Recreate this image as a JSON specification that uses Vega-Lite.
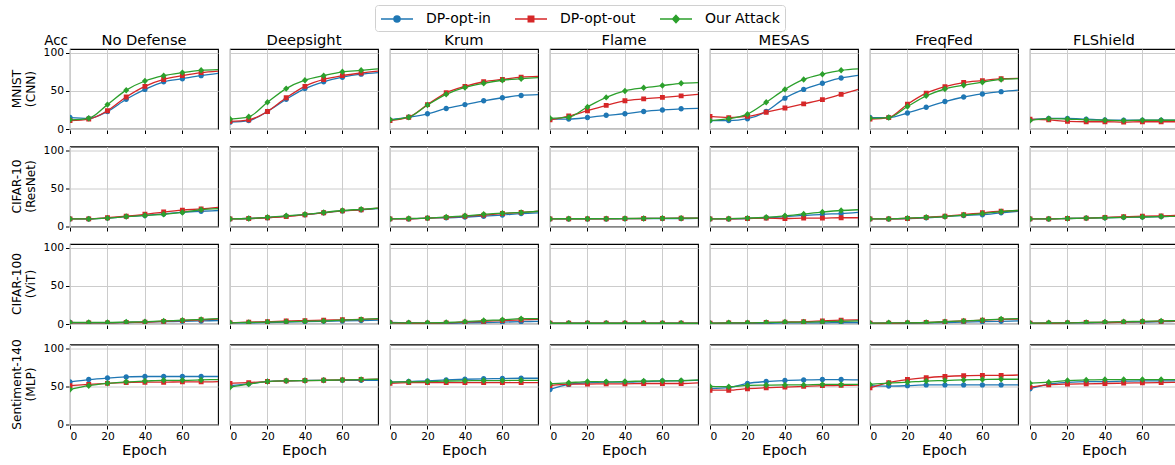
{
"$schema": "https://vega.github.io/schema/vega-lite/v6.json",
"padding": {"left": 10, "top": 4, "right": 0, "bottom": 0},
"config": {
  "font": "DejaVu Sans",
  "view": {"stroke": "black", "strokeWidth": 1.1},
  "axis": {"grid": true, "gridColor": "#cccccc", "gridWidth": 1, "domain": false, "tickColor": "black", "tickSize": 3.5, "labelFontSize": 10.7, "labelColor": "black", "labelPadding": 2, "titleFontWeight": "normal", "titleColor": "black"},
  "header": {"labelColor": "black", "labelFont": "DejaVu Sans"},
  "legend": {"orient": "none", "legendX": 305, "legendY": -44, "direction": "horizontal", "labelFontSize": 14, "labelColor": "black", "symbolSize": 256, "symbolOffset": 8, "symbolStrokeWidth": 1.5, "symbolOpacity": 1, "strokeColor": "#d0d0d0", "cornerRadius": 3, "padding": 5, "columnPadding": 21, "labelOffset": 20, "fillColor": "white"},
  "concat": {"spacing": 9.5}
},
"datasets": {"acc": [
{"d":"MNIST (CNN)","f":"No Defense","m":"DP-opt-in","e":0,"a":15},{"d":"MNIST (CNN)","f":"No Defense","m":"DP-opt-in","e":10,"a":14},{"d":"MNIST (CNN)","f":"No Defense","m":"DP-opt-in","e":20,"a":23},{"d":"MNIST (CNN)","f":"No Defense","m":"DP-opt-in","e":30,"a":39},{"d":"MNIST (CNN)","f":"No Defense","m":"DP-opt-in","e":40,"a":52},{"d":"MNIST (CNN)","f":"No Defense","m":"DP-opt-in","e":50,"a":62},{"d":"MNIST (CNN)","f":"No Defense","m":"DP-opt-in","e":60,"a":66},{"d":"MNIST (CNN)","f":"No Defense","m":"DP-opt-in","e":70,"a":70},{"d":"MNIST (CNN)","f":"No Defense","m":"DP-opt-in","e":79,"a":73},
{"d":"MNIST (CNN)","f":"No Defense","m":"DP-opt-out","e":0,"a":11},{"d":"MNIST (CNN)","f":"No Defense","m":"DP-opt-out","e":10,"a":13},{"d":"MNIST (CNN)","f":"No Defense","m":"DP-opt-out","e":20,"a":24},{"d":"MNIST (CNN)","f":"No Defense","m":"DP-opt-out","e":30,"a":42},{"d":"MNIST (CNN)","f":"No Defense","m":"DP-opt-out","e":40,"a":56},{"d":"MNIST (CNN)","f":"No Defense","m":"DP-opt-out","e":50,"a":65},{"d":"MNIST (CNN)","f":"No Defense","m":"DP-opt-out","e":60,"a":70},{"d":"MNIST (CNN)","f":"No Defense","m":"DP-opt-out","e":70,"a":74},{"d":"MNIST (CNN)","f":"No Defense","m":"DP-opt-out","e":79,"a":76},
{"d":"MNIST (CNN)","f":"No Defense","m":"Our Attack","e":0,"a":12},{"d":"MNIST (CNN)","f":"No Defense","m":"Our Attack","e":10,"a":14},{"d":"MNIST (CNN)","f":"No Defense","m":"Our Attack","e":20,"a":32},{"d":"MNIST (CNN)","f":"No Defense","m":"Our Attack","e":30,"a":51},{"d":"MNIST (CNN)","f":"No Defense","m":"Our Attack","e":40,"a":63},{"d":"MNIST (CNN)","f":"No Defense","m":"Our Attack","e":50,"a":70},{"d":"MNIST (CNN)","f":"No Defense","m":"Our Attack","e":60,"a":74},{"d":"MNIST (CNN)","f":"No Defense","m":"Our Attack","e":70,"a":77},{"d":"MNIST (CNN)","f":"No Defense","m":"Our Attack","e":79,"a":78},
{"d":"MNIST (CNN)","f":"Deepsight","m":"DP-opt-in","e":0,"a":9},{"d":"MNIST (CNN)","f":"Deepsight","m":"DP-opt-in","e":10,"a":11},{"d":"MNIST (CNN)","f":"Deepsight","m":"DP-opt-in","e":20,"a":23},{"d":"MNIST (CNN)","f":"Deepsight","m":"DP-opt-in","e":30,"a":39},{"d":"MNIST (CNN)","f":"Deepsight","m":"DP-opt-in","e":40,"a":53},{"d":"MNIST (CNN)","f":"Deepsight","m":"DP-opt-in","e":50,"a":62},{"d":"MNIST (CNN)","f":"Deepsight","m":"DP-opt-in","e":60,"a":68},{"d":"MNIST (CNN)","f":"Deepsight","m":"DP-opt-in","e":70,"a":72},{"d":"MNIST (CNN)","f":"Deepsight","m":"DP-opt-in","e":79,"a":74},
{"d":"MNIST (CNN)","f":"Deepsight","m":"DP-opt-out","e":0,"a":10},{"d":"MNIST (CNN)","f":"Deepsight","m":"DP-opt-out","e":10,"a":12},{"d":"MNIST (CNN)","f":"Deepsight","m":"DP-opt-out","e":20,"a":23},{"d":"MNIST (CNN)","f":"Deepsight","m":"DP-opt-out","e":30,"a":41},{"d":"MNIST (CNN)","f":"Deepsight","m":"DP-opt-out","e":40,"a":56},{"d":"MNIST (CNN)","f":"Deepsight","m":"DP-opt-out","e":50,"a":65},{"d":"MNIST (CNN)","f":"Deepsight","m":"DP-opt-out","e":60,"a":70},{"d":"MNIST (CNN)","f":"Deepsight","m":"DP-opt-out","e":70,"a":73.5},{"d":"MNIST (CNN)","f":"Deepsight","m":"DP-opt-out","e":79,"a":76},
{"d":"MNIST (CNN)","f":"Deepsight","m":"Our Attack","e":0,"a":13},{"d":"MNIST (CNN)","f":"Deepsight","m":"Our Attack","e":10,"a":16},{"d":"MNIST (CNN)","f":"Deepsight","m":"Our Attack","e":20,"a":35},{"d":"MNIST (CNN)","f":"Deepsight","m":"Our Attack","e":30,"a":53},{"d":"MNIST (CNN)","f":"Deepsight","m":"Our Attack","e":40,"a":64},{"d":"MNIST (CNN)","f":"Deepsight","m":"Our Attack","e":50,"a":70},{"d":"MNIST (CNN)","f":"Deepsight","m":"Our Attack","e":60,"a":75},{"d":"MNIST (CNN)","f":"Deepsight","m":"Our Attack","e":70,"a":77},{"d":"MNIST (CNN)","f":"Deepsight","m":"Our Attack","e":79,"a":79},
{"d":"MNIST (CNN)","f":"Krum","m":"DP-opt-in","e":0,"a":12},{"d":"MNIST (CNN)","f":"Krum","m":"DP-opt-in","e":10,"a":15.5},{"d":"MNIST (CNN)","f":"Krum","m":"DP-opt-in","e":20,"a":20},{"d":"MNIST (CNN)","f":"Krum","m":"DP-opt-in","e":30,"a":27},{"d":"MNIST (CNN)","f":"Krum","m":"DP-opt-in","e":40,"a":32},{"d":"MNIST (CNN)","f":"Krum","m":"DP-opt-in","e":50,"a":37},{"d":"MNIST (CNN)","f":"Krum","m":"DP-opt-in","e":60,"a":41},{"d":"MNIST (CNN)","f":"Krum","m":"DP-opt-in","e":70,"a":44},{"d":"MNIST (CNN)","f":"Krum","m":"DP-opt-in","e":79,"a":45},
{"d":"MNIST (CNN)","f":"Krum","m":"DP-opt-out","e":0,"a":11},{"d":"MNIST (CNN)","f":"Krum","m":"DP-opt-out","e":10,"a":15.5},{"d":"MNIST (CNN)","f":"Krum","m":"DP-opt-out","e":20,"a":32},{"d":"MNIST (CNN)","f":"Krum","m":"DP-opt-out","e":30,"a":47.5},{"d":"MNIST (CNN)","f":"Krum","m":"DP-opt-out","e":40,"a":56},{"d":"MNIST (CNN)","f":"Krum","m":"DP-opt-out","e":50,"a":62},{"d":"MNIST (CNN)","f":"Krum","m":"DP-opt-out","e":60,"a":65},{"d":"MNIST (CNN)","f":"Krum","m":"DP-opt-out","e":70,"a":68},{"d":"MNIST (CNN)","f":"Krum","m":"DP-opt-out","e":79,"a":69},
{"d":"MNIST (CNN)","f":"Krum","m":"Our Attack","e":0,"a":12},{"d":"MNIST (CNN)","f":"Krum","m":"Our Attack","e":10,"a":15.5},{"d":"MNIST (CNN)","f":"Krum","m":"Our Attack","e":20,"a":31.5},{"d":"MNIST (CNN)","f":"Krum","m":"Our Attack","e":30,"a":45.5},{"d":"MNIST (CNN)","f":"Krum","m":"Our Attack","e":40,"a":54.5},{"d":"MNIST (CNN)","f":"Krum","m":"Our Attack","e":50,"a":60},{"d":"MNIST (CNN)","f":"Krum","m":"Our Attack","e":60,"a":64},{"d":"MNIST (CNN)","f":"Krum","m":"Our Attack","e":70,"a":66},{"d":"MNIST (CNN)","f":"Krum","m":"Our Attack","e":79,"a":67.5},
{"d":"MNIST (CNN)","f":"Flame","m":"DP-opt-in","e":0,"a":13},{"d":"MNIST (CNN)","f":"Flame","m":"DP-opt-in","e":10,"a":13},{"d":"MNIST (CNN)","f":"Flame","m":"DP-opt-in","e":20,"a":15},{"d":"MNIST (CNN)","f":"Flame","m":"DP-opt-in","e":30,"a":18},{"d":"MNIST (CNN)","f":"Flame","m":"DP-opt-in","e":40,"a":20},{"d":"MNIST (CNN)","f":"Flame","m":"DP-opt-in","e":50,"a":23},{"d":"MNIST (CNN)","f":"Flame","m":"DP-opt-in","e":60,"a":25},{"d":"MNIST (CNN)","f":"Flame","m":"DP-opt-in","e":70,"a":26.5},{"d":"MNIST (CNN)","f":"Flame","m":"DP-opt-in","e":79,"a":27},
{"d":"MNIST (CNN)","f":"Flame","m":"DP-opt-out","e":0,"a":12},{"d":"MNIST (CNN)","f":"Flame","m":"DP-opt-out","e":10,"a":17},{"d":"MNIST (CNN)","f":"Flame","m":"DP-opt-out","e":20,"a":24},{"d":"MNIST (CNN)","f":"Flame","m":"DP-opt-out","e":30,"a":31},{"d":"MNIST (CNN)","f":"Flame","m":"DP-opt-out","e":40,"a":37},{"d":"MNIST (CNN)","f":"Flame","m":"DP-opt-out","e":50,"a":39.5},{"d":"MNIST (CNN)","f":"Flame","m":"DP-opt-out","e":60,"a":41.5},{"d":"MNIST (CNN)","f":"Flame","m":"DP-opt-out","e":70,"a":43.5},{"d":"MNIST (CNN)","f":"Flame","m":"DP-opt-out","e":79,"a":45.5},
{"d":"MNIST (CNN)","f":"Flame","m":"Our Attack","e":0,"a":14},{"d":"MNIST (CNN)","f":"Flame","m":"Our Attack","e":10,"a":15.5},{"d":"MNIST (CNN)","f":"Flame","m":"Our Attack","e":20,"a":29},{"d":"MNIST (CNN)","f":"Flame","m":"Our Attack","e":30,"a":41.5},{"d":"MNIST (CNN)","f":"Flame","m":"Our Attack","e":40,"a":50},{"d":"MNIST (CNN)","f":"Flame","m":"Our Attack","e":50,"a":54},{"d":"MNIST (CNN)","f":"Flame","m":"Our Attack","e":60,"a":57},{"d":"MNIST (CNN)","f":"Flame","m":"Our Attack","e":70,"a":60},{"d":"MNIST (CNN)","f":"Flame","m":"Our Attack","e":79,"a":61},
{"d":"MNIST (CNN)","f":"MESAS","m":"DP-opt-in","e":0,"a":11},{"d":"MNIST (CNN)","f":"MESAS","m":"DP-opt-in","e":10,"a":11},{"d":"MNIST (CNN)","f":"MESAS","m":"DP-opt-in","e":20,"a":13.5},{"d":"MNIST (CNN)","f":"MESAS","m":"DP-opt-in","e":30,"a":23},{"d":"MNIST (CNN)","f":"MESAS","m":"DP-opt-in","e":40,"a":40.5},{"d":"MNIST (CNN)","f":"MESAS","m":"DP-opt-in","e":50,"a":52},{"d":"MNIST (CNN)","f":"MESAS","m":"DP-opt-in","e":60,"a":60},{"d":"MNIST (CNN)","f":"MESAS","m":"DP-opt-in","e":70,"a":67},{"d":"MNIST (CNN)","f":"MESAS","m":"DP-opt-in","e":79,"a":70.5},
{"d":"MNIST (CNN)","f":"MESAS","m":"DP-opt-out","e":0,"a":16.5},{"d":"MNIST (CNN)","f":"MESAS","m":"DP-opt-out","e":10,"a":15},{"d":"MNIST (CNN)","f":"MESAS","m":"DP-opt-out","e":20,"a":16.5},{"d":"MNIST (CNN)","f":"MESAS","m":"DP-opt-out","e":30,"a":22},{"d":"MNIST (CNN)","f":"MESAS","m":"DP-opt-out","e":40,"a":27.5},{"d":"MNIST (CNN)","f":"MESAS","m":"DP-opt-out","e":50,"a":33},{"d":"MNIST (CNN)","f":"MESAS","m":"DP-opt-out","e":60,"a":38.5},{"d":"MNIST (CNN)","f":"MESAS","m":"DP-opt-out","e":70,"a":45.5},{"d":"MNIST (CNN)","f":"MESAS","m":"DP-opt-out","e":79,"a":52},
{"d":"MNIST (CNN)","f":"MESAS","m":"Our Attack","e":0,"a":11},{"d":"MNIST (CNN)","f":"MESAS","m":"Our Attack","e":10,"a":13.5},{"d":"MNIST (CNN)","f":"MESAS","m":"Our Attack","e":20,"a":19.5},{"d":"MNIST (CNN)","f":"MESAS","m":"Our Attack","e":30,"a":35},{"d":"MNIST (CNN)","f":"MESAS","m":"Our Attack","e":40,"a":52},{"d":"MNIST (CNN)","f":"MESAS","m":"Our Attack","e":50,"a":65},{"d":"MNIST (CNN)","f":"MESAS","m":"Our Attack","e":60,"a":72},{"d":"MNIST (CNN)","f":"MESAS","m":"Our Attack","e":70,"a":77},{"d":"MNIST (CNN)","f":"MESAS","m":"Our Attack","e":79,"a":79},
{"d":"MNIST (CNN)","f":"FreqFed","m":"DP-opt-in","e":0,"a":15},{"d":"MNIST (CNN)","f":"FreqFed","m":"DP-opt-in","e":10,"a":15},{"d":"MNIST (CNN)","f":"FreqFed","m":"DP-opt-in","e":20,"a":21},{"d":"MNIST (CNN)","f":"FreqFed","m":"DP-opt-in","e":30,"a":28.5},{"d":"MNIST (CNN)","f":"FreqFed","m":"DP-opt-in","e":40,"a":36},{"d":"MNIST (CNN)","f":"FreqFed","m":"DP-opt-in","e":50,"a":42},{"d":"MNIST (CNN)","f":"FreqFed","m":"DP-opt-in","e":60,"a":46},{"d":"MNIST (CNN)","f":"FreqFed","m":"DP-opt-in","e":70,"a":49},{"d":"MNIST (CNN)","f":"FreqFed","m":"DP-opt-in","e":79,"a":51},
{"d":"MNIST (CNN)","f":"FreqFed","m":"DP-opt-out","e":0,"a":13},{"d":"MNIST (CNN)","f":"FreqFed","m":"DP-opt-out","e":10,"a":15},{"d":"MNIST (CNN)","f":"FreqFed","m":"DP-opt-out","e":20,"a":32.5},{"d":"MNIST (CNN)","f":"FreqFed","m":"DP-opt-out","e":30,"a":47},{"d":"MNIST (CNN)","f":"FreqFed","m":"DP-opt-out","e":40,"a":55.5},{"d":"MNIST (CNN)","f":"FreqFed","m":"DP-opt-out","e":50,"a":61},{"d":"MNIST (CNN)","f":"FreqFed","m":"DP-opt-out","e":60,"a":63.5},{"d":"MNIST (CNN)","f":"FreqFed","m":"DP-opt-out","e":70,"a":66},{"d":"MNIST (CNN)","f":"FreqFed","m":"DP-opt-out","e":79,"a":66.5},
{"d":"MNIST (CNN)","f":"FreqFed","m":"Our Attack","e":0,"a":14},{"d":"MNIST (CNN)","f":"FreqFed","m":"Our Attack","e":10,"a":15},{"d":"MNIST (CNN)","f":"FreqFed","m":"Our Attack","e":20,"a":29.5},{"d":"MNIST (CNN)","f":"FreqFed","m":"Our Attack","e":30,"a":43.5},{"d":"MNIST (CNN)","f":"FreqFed","m":"Our Attack","e":40,"a":52.5},{"d":"MNIST (CNN)","f":"FreqFed","m":"Our Attack","e":50,"a":57.5},{"d":"MNIST (CNN)","f":"FreqFed","m":"Our Attack","e":60,"a":61.5},{"d":"MNIST (CNN)","f":"FreqFed","m":"Our Attack","e":70,"a":65},{"d":"MNIST (CNN)","f":"FreqFed","m":"Our Attack","e":79,"a":66},
{"d":"MNIST (CNN)","f":"FLShield","m":"DP-opt-in","e":0,"a":12},{"d":"MNIST (CNN)","f":"FLShield","m":"DP-opt-in","e":10,"a":14},{"d":"MNIST (CNN)","f":"FLShield","m":"DP-opt-in","e":20,"a":14},{"d":"MNIST (CNN)","f":"FLShield","m":"DP-opt-in","e":30,"a":13},{"d":"MNIST (CNN)","f":"FLShield","m":"DP-opt-in","e":40,"a":12},{"d":"MNIST (CNN)","f":"FLShield","m":"DP-opt-in","e":50,"a":11.5},{"d":"MNIST (CNN)","f":"FLShield","m":"DP-opt-in","e":60,"a":11.5},{"d":"MNIST (CNN)","f":"FLShield","m":"DP-opt-in","e":70,"a":11.5},{"d":"MNIST (CNN)","f":"FLShield","m":"DP-opt-in","e":79,"a":11.5},
{"d":"MNIST (CNN)","f":"FLShield","m":"DP-opt-out","e":0,"a":13},{"d":"MNIST (CNN)","f":"FLShield","m":"DP-opt-out","e":10,"a":12},{"d":"MNIST (CNN)","f":"FLShield","m":"DP-opt-out","e":20,"a":10},{"d":"MNIST (CNN)","f":"FLShield","m":"DP-opt-out","e":30,"a":9.5},{"d":"MNIST (CNN)","f":"FLShield","m":"DP-opt-out","e":40,"a":9.5},{"d":"MNIST (CNN)","f":"FLShield","m":"DP-opt-out","e":50,"a":9},{"d":"MNIST (CNN)","f":"FLShield","m":"DP-opt-out","e":60,"a":9.5},{"d":"MNIST (CNN)","f":"FLShield","m":"DP-opt-out","e":70,"a":9.5},{"d":"MNIST (CNN)","f":"FLShield","m":"DP-opt-out","e":79,"a":9.5},
{"d":"MNIST (CNN)","f":"FLShield","m":"Our Attack","e":0,"a":11},{"d":"MNIST (CNN)","f":"FLShield","m":"Our Attack","e":10,"a":13.5},{"d":"MNIST (CNN)","f":"FLShield","m":"Our Attack","e":20,"a":13},{"d":"MNIST (CNN)","f":"FLShield","m":"Our Attack","e":30,"a":12},{"d":"MNIST (CNN)","f":"FLShield","m":"Our Attack","e":40,"a":11.5},{"d":"MNIST (CNN)","f":"FLShield","m":"Our Attack","e":50,"a":11},{"d":"MNIST (CNN)","f":"FLShield","m":"Our Attack","e":60,"a":11.5},{"d":"MNIST (CNN)","f":"FLShield","m":"Our Attack","e":70,"a":11.5},{"d":"MNIST (CNN)","f":"FLShield","m":"Our Attack","e":79,"a":11.5},
{"d":"CIFAR-10 (ResNet)","f":"No Defense","m":"DP-opt-in","e":0,"a":10},{"d":"CIFAR-10 (ResNet)","f":"No Defense","m":"DP-opt-in","e":10,"a":10},{"d":"CIFAR-10 (ResNet)","f":"No Defense","m":"DP-opt-in","e":20,"a":11},{"d":"CIFAR-10 (ResNet)","f":"No Defense","m":"DP-opt-in","e":30,"a":13},{"d":"CIFAR-10 (ResNet)","f":"No Defense","m":"DP-opt-in","e":40,"a":14.5},{"d":"CIFAR-10 (ResNet)","f":"No Defense","m":"DP-opt-in","e":50,"a":16.5},{"d":"CIFAR-10 (ResNet)","f":"No Defense","m":"DP-opt-in","e":60,"a":19},{"d":"CIFAR-10 (ResNet)","f":"No Defense","m":"DP-opt-in","e":70,"a":20},{"d":"CIFAR-10 (ResNet)","f":"No Defense","m":"DP-opt-in","e":79,"a":21},
{"d":"CIFAR-10 (ResNet)","f":"No Defense","m":"DP-opt-out","e":0,"a":10},{"d":"CIFAR-10 (ResNet)","f":"No Defense","m":"DP-opt-out","e":10,"a":10},{"d":"CIFAR-10 (ResNet)","f":"No Defense","m":"DP-opt-out","e":20,"a":11.5},{"d":"CIFAR-10 (ResNet)","f":"No Defense","m":"DP-opt-out","e":30,"a":13.5},{"d":"CIFAR-10 (ResNet)","f":"No Defense","m":"DP-opt-out","e":40,"a":16},{"d":"CIFAR-10 (ResNet)","f":"No Defense","m":"DP-opt-out","e":50,"a":19},{"d":"CIFAR-10 (ResNet)","f":"No Defense","m":"DP-opt-out","e":60,"a":21.5},{"d":"CIFAR-10 (ResNet)","f":"No Defense","m":"DP-opt-out","e":70,"a":23},{"d":"CIFAR-10 (ResNet)","f":"No Defense","m":"DP-opt-out","e":79,"a":25},
{"d":"CIFAR-10 (ResNet)","f":"No Defense","m":"Our Attack","e":0,"a":10},{"d":"CIFAR-10 (ResNet)","f":"No Defense","m":"Our Attack","e":10,"a":10},{"d":"CIFAR-10 (ResNet)","f":"No Defense","m":"Our Attack","e":20,"a":11},{"d":"CIFAR-10 (ResNet)","f":"No Defense","m":"Our Attack","e":30,"a":13},{"d":"CIFAR-10 (ResNet)","f":"No Defense","m":"Our Attack","e":40,"a":14.5},{"d":"CIFAR-10 (ResNet)","f":"No Defense","m":"Our Attack","e":50,"a":16},{"d":"CIFAR-10 (ResNet)","f":"No Defense","m":"Our Attack","e":60,"a":18.5},{"d":"CIFAR-10 (ResNet)","f":"No Defense","m":"Our Attack","e":70,"a":22},{"d":"CIFAR-10 (ResNet)","f":"No Defense","m":"Our Attack","e":79,"a":23.5},
{"d":"CIFAR-10 (ResNet)","f":"Deepsight","m":"DP-opt-in","e":0,"a":10},{"d":"CIFAR-10 (ResNet)","f":"Deepsight","m":"DP-opt-in","e":10,"a":10.5},{"d":"CIFAR-10 (ResNet)","f":"Deepsight","m":"DP-opt-in","e":20,"a":11.5},{"d":"CIFAR-10 (ResNet)","f":"Deepsight","m":"DP-opt-in","e":30,"a":13.5},{"d":"CIFAR-10 (ResNet)","f":"Deepsight","m":"DP-opt-in","e":40,"a":15.5},{"d":"CIFAR-10 (ResNet)","f":"Deepsight","m":"DP-opt-in","e":50,"a":18},{"d":"CIFAR-10 (ResNet)","f":"Deepsight","m":"DP-opt-in","e":60,"a":20.5},{"d":"CIFAR-10 (ResNet)","f":"Deepsight","m":"DP-opt-in","e":70,"a":22},{"d":"CIFAR-10 (ResNet)","f":"Deepsight","m":"DP-opt-in","e":79,"a":23.5},
{"d":"CIFAR-10 (ResNet)","f":"Deepsight","m":"DP-opt-out","e":0,"a":10},{"d":"CIFAR-10 (ResNet)","f":"Deepsight","m":"DP-opt-out","e":10,"a":10.5},{"d":"CIFAR-10 (ResNet)","f":"Deepsight","m":"DP-opt-out","e":20,"a":11.5},{"d":"CIFAR-10 (ResNet)","f":"Deepsight","m":"DP-opt-out","e":30,"a":13},{"d":"CIFAR-10 (ResNet)","f":"Deepsight","m":"DP-opt-out","e":40,"a":15.5},{"d":"CIFAR-10 (ResNet)","f":"Deepsight","m":"DP-opt-out","e":50,"a":18},{"d":"CIFAR-10 (ResNet)","f":"Deepsight","m":"DP-opt-out","e":60,"a":20.5},{"d":"CIFAR-10 (ResNet)","f":"Deepsight","m":"DP-opt-out","e":70,"a":22},{"d":"CIFAR-10 (ResNet)","f":"Deepsight","m":"DP-opt-out","e":79,"a":24},
{"d":"CIFAR-10 (ResNet)","f":"Deepsight","m":"Our Attack","e":0,"a":10},{"d":"CIFAR-10 (ResNet)","f":"Deepsight","m":"Our Attack","e":10,"a":10.5},{"d":"CIFAR-10 (ResNet)","f":"Deepsight","m":"Our Attack","e":20,"a":12},{"d":"CIFAR-10 (ResNet)","f":"Deepsight","m":"Our Attack","e":30,"a":14},{"d":"CIFAR-10 (ResNet)","f":"Deepsight","m":"Our Attack","e":40,"a":16},{"d":"CIFAR-10 (ResNet)","f":"Deepsight","m":"Our Attack","e":50,"a":18.5},{"d":"CIFAR-10 (ResNet)","f":"Deepsight","m":"Our Attack","e":60,"a":21},{"d":"CIFAR-10 (ResNet)","f":"Deepsight","m":"Our Attack","e":70,"a":22.5},{"d":"CIFAR-10 (ResNet)","f":"Deepsight","m":"Our Attack","e":79,"a":24},
{"d":"CIFAR-10 (ResNet)","f":"Krum","m":"DP-opt-in","e":0,"a":10},{"d":"CIFAR-10 (ResNet)","f":"Krum","m":"DP-opt-in","e":10,"a":10},{"d":"CIFAR-10 (ResNet)","f":"Krum","m":"DP-opt-in","e":20,"a":11},{"d":"CIFAR-10 (ResNet)","f":"Krum","m":"DP-opt-in","e":30,"a":11.5},{"d":"CIFAR-10 (ResNet)","f":"Krum","m":"DP-opt-in","e":40,"a":12.5},{"d":"CIFAR-10 (ResNet)","f":"Krum","m":"DP-opt-in","e":50,"a":13.5},{"d":"CIFAR-10 (ResNet)","f":"Krum","m":"DP-opt-in","e":60,"a":15},{"d":"CIFAR-10 (ResNet)","f":"Krum","m":"DP-opt-in","e":70,"a":17},{"d":"CIFAR-10 (ResNet)","f":"Krum","m":"DP-opt-in","e":79,"a":18},
{"d":"CIFAR-10 (ResNet)","f":"Krum","m":"DP-opt-out","e":0,"a":10},{"d":"CIFAR-10 (ResNet)","f":"Krum","m":"DP-opt-out","e":10,"a":10},{"d":"CIFAR-10 (ResNet)","f":"Krum","m":"DP-opt-out","e":20,"a":11},{"d":"CIFAR-10 (ResNet)","f":"Krum","m":"DP-opt-out","e":30,"a":12},{"d":"CIFAR-10 (ResNet)","f":"Krum","m":"DP-opt-out","e":40,"a":13.5},{"d":"CIFAR-10 (ResNet)","f":"Krum","m":"DP-opt-out","e":50,"a":15},{"d":"CIFAR-10 (ResNet)","f":"Krum","m":"DP-opt-out","e":60,"a":17},{"d":"CIFAR-10 (ResNet)","f":"Krum","m":"DP-opt-out","e":70,"a":18.5},{"d":"CIFAR-10 (ResNet)","f":"Krum","m":"DP-opt-out","e":79,"a":20},
{"d":"CIFAR-10 (ResNet)","f":"Krum","m":"Our Attack","e":0,"a":10},{"d":"CIFAR-10 (ResNet)","f":"Krum","m":"Our Attack","e":10,"a":10.5},{"d":"CIFAR-10 (ResNet)","f":"Krum","m":"Our Attack","e":20,"a":11},{"d":"CIFAR-10 (ResNet)","f":"Krum","m":"Our Attack","e":30,"a":12.5},{"d":"CIFAR-10 (ResNet)","f":"Krum","m":"Our Attack","e":40,"a":14},{"d":"CIFAR-10 (ResNet)","f":"Krum","m":"Our Attack","e":50,"a":16},{"d":"CIFAR-10 (ResNet)","f":"Krum","m":"Our Attack","e":60,"a":17.5},{"d":"CIFAR-10 (ResNet)","f":"Krum","m":"Our Attack","e":70,"a":18.5},{"d":"CIFAR-10 (ResNet)","f":"Krum","m":"Our Attack","e":79,"a":20},
{"d":"CIFAR-10 (ResNet)","f":"Flame","m":"DP-opt-in","e":0,"a":10},{"d":"CIFAR-10 (ResNet)","f":"Flame","m":"DP-opt-in","e":10,"a":10},{"d":"CIFAR-10 (ResNet)","f":"Flame","m":"DP-opt-in","e":20,"a":10},{"d":"CIFAR-10 (ResNet)","f":"Flame","m":"DP-opt-in","e":30,"a":10},{"d":"CIFAR-10 (ResNet)","f":"Flame","m":"DP-opt-in","e":40,"a":10.3},{"d":"CIFAR-10 (ResNet)","f":"Flame","m":"DP-opt-in","e":50,"a":10.5},{"d":"CIFAR-10 (ResNet)","f":"Flame","m":"DP-opt-in","e":60,"a":10.5},{"d":"CIFAR-10 (ResNet)","f":"Flame","m":"DP-opt-in","e":70,"a":10.5},{"d":"CIFAR-10 (ResNet)","f":"Flame","m":"DP-opt-in","e":79,"a":10.8},
{"d":"CIFAR-10 (ResNet)","f":"Flame","m":"DP-opt-out","e":0,"a":10},{"d":"CIFAR-10 (ResNet)","f":"Flame","m":"DP-opt-out","e":10,"a":10},{"d":"CIFAR-10 (ResNet)","f":"Flame","m":"DP-opt-out","e":20,"a":10},{"d":"CIFAR-10 (ResNet)","f":"Flame","m":"DP-opt-out","e":30,"a":10.2},{"d":"CIFAR-10 (ResNet)","f":"Flame","m":"DP-opt-out","e":40,"a":10.3},{"d":"CIFAR-10 (ResNet)","f":"Flame","m":"DP-opt-out","e":50,"a":10.5},{"d":"CIFAR-10 (ResNet)","f":"Flame","m":"DP-opt-out","e":60,"a":10.7},{"d":"CIFAR-10 (ResNet)","f":"Flame","m":"DP-opt-out","e":70,"a":10.8},{"d":"CIFAR-10 (ResNet)","f":"Flame","m":"DP-opt-out","e":79,"a":11},
{"d":"CIFAR-10 (ResNet)","f":"Flame","m":"Our Attack","e":0,"a":10},{"d":"CIFAR-10 (ResNet)","f":"Flame","m":"Our Attack","e":10,"a":10.2},{"d":"CIFAR-10 (ResNet)","f":"Flame","m":"Our Attack","e":20,"a":10.2},{"d":"CIFAR-10 (ResNet)","f":"Flame","m":"Our Attack","e":30,"a":10.3},{"d":"CIFAR-10 (ResNet)","f":"Flame","m":"Our Attack","e":40,"a":10.5},{"d":"CIFAR-10 (ResNet)","f":"Flame","m":"Our Attack","e":50,"a":10.6},{"d":"CIFAR-10 (ResNet)","f":"Flame","m":"Our Attack","e":60,"a":10.7},{"d":"CIFAR-10 (ResNet)","f":"Flame","m":"Our Attack","e":70,"a":10.8},{"d":"CIFAR-10 (ResNet)","f":"Flame","m":"Our Attack","e":79,"a":11},
{"d":"CIFAR-10 (ResNet)","f":"MESAS","m":"DP-opt-in","e":0,"a":10},{"d":"CIFAR-10 (ResNet)","f":"MESAS","m":"DP-opt-in","e":10,"a":10},{"d":"CIFAR-10 (ResNet)","f":"MESAS","m":"DP-opt-in","e":20,"a":10.5},{"d":"CIFAR-10 (ResNet)","f":"MESAS","m":"DP-opt-in","e":30,"a":11.5},{"d":"CIFAR-10 (ResNet)","f":"MESAS","m":"DP-opt-in","e":40,"a":13},{"d":"CIFAR-10 (ResNet)","f":"MESAS","m":"DP-opt-in","e":50,"a":14.5},{"d":"CIFAR-10 (ResNet)","f":"MESAS","m":"DP-opt-in","e":60,"a":16},{"d":"CIFAR-10 (ResNet)","f":"MESAS","m":"DP-opt-in","e":70,"a":17},{"d":"CIFAR-10 (ResNet)","f":"MESAS","m":"DP-opt-in","e":79,"a":18.5},
{"d":"CIFAR-10 (ResNet)","f":"MESAS","m":"DP-opt-out","e":0,"a":10},{"d":"CIFAR-10 (ResNet)","f":"MESAS","m":"DP-opt-out","e":10,"a":10},{"d":"CIFAR-10 (ResNet)","f":"MESAS","m":"DP-opt-out","e":20,"a":10.5},{"d":"CIFAR-10 (ResNet)","f":"MESAS","m":"DP-opt-out","e":30,"a":11},{"d":"CIFAR-10 (ResNet)","f":"MESAS","m":"DP-opt-out","e":40,"a":10.5},{"d":"CIFAR-10 (ResNet)","f":"MESAS","m":"DP-opt-out","e":50,"a":11},{"d":"CIFAR-10 (ResNet)","f":"MESAS","m":"DP-opt-out","e":60,"a":11},{"d":"CIFAR-10 (ResNet)","f":"MESAS","m":"DP-opt-out","e":70,"a":11.5},{"d":"CIFAR-10 (ResNet)","f":"MESAS","m":"DP-opt-out","e":79,"a":11.5},
{"d":"CIFAR-10 (ResNet)","f":"MESAS","m":"Our Attack","e":0,"a":10},{"d":"CIFAR-10 (ResNet)","f":"MESAS","m":"Our Attack","e":10,"a":10.3},{"d":"CIFAR-10 (ResNet)","f":"MESAS","m":"Our Attack","e":20,"a":11},{"d":"CIFAR-10 (ResNet)","f":"MESAS","m":"Our Attack","e":30,"a":12},{"d":"CIFAR-10 (ResNet)","f":"MESAS","m":"Our Attack","e":40,"a":14},{"d":"CIFAR-10 (ResNet)","f":"MESAS","m":"Our Attack","e":50,"a":16.5},{"d":"CIFAR-10 (ResNet)","f":"MESAS","m":"Our Attack","e":60,"a":19},{"d":"CIFAR-10 (ResNet)","f":"MESAS","m":"Our Attack","e":70,"a":21},{"d":"CIFAR-10 (ResNet)","f":"MESAS","m":"Our Attack","e":79,"a":22},
{"d":"CIFAR-10 (ResNet)","f":"FreqFed","m":"DP-opt-in","e":0,"a":10},{"d":"CIFAR-10 (ResNet)","f":"FreqFed","m":"DP-opt-in","e":10,"a":10},{"d":"CIFAR-10 (ResNet)","f":"FreqFed","m":"DP-opt-in","e":20,"a":10.5},{"d":"CIFAR-10 (ResNet)","f":"FreqFed","m":"DP-opt-in","e":30,"a":11.5},{"d":"CIFAR-10 (ResNet)","f":"FreqFed","m":"DP-opt-in","e":40,"a":13},{"d":"CIFAR-10 (ResNet)","f":"FreqFed","m":"DP-opt-in","e":50,"a":14.5},{"d":"CIFAR-10 (ResNet)","f":"FreqFed","m":"DP-opt-in","e":60,"a":15.5},{"d":"CIFAR-10 (ResNet)","f":"FreqFed","m":"DP-opt-in","e":70,"a":18},{"d":"CIFAR-10 (ResNet)","f":"FreqFed","m":"DP-opt-in","e":79,"a":20},
{"d":"CIFAR-10 (ResNet)","f":"FreqFed","m":"DP-opt-out","e":0,"a":10},{"d":"CIFAR-10 (ResNet)","f":"FreqFed","m":"DP-opt-out","e":10,"a":10},{"d":"CIFAR-10 (ResNet)","f":"FreqFed","m":"DP-opt-out","e":20,"a":10.5},{"d":"CIFAR-10 (ResNet)","f":"FreqFed","m":"DP-opt-out","e":30,"a":12},{"d":"CIFAR-10 (ResNet)","f":"FreqFed","m":"DP-opt-out","e":40,"a":13.5},{"d":"CIFAR-10 (ResNet)","f":"FreqFed","m":"DP-opt-out","e":50,"a":15.5},{"d":"CIFAR-10 (ResNet)","f":"FreqFed","m":"DP-opt-out","e":60,"a":18},{"d":"CIFAR-10 (ResNet)","f":"FreqFed","m":"DP-opt-out","e":70,"a":20},{"d":"CIFAR-10 (ResNet)","f":"FreqFed","m":"DP-opt-out","e":79,"a":21},
{"d":"CIFAR-10 (ResNet)","f":"FreqFed","m":"Our Attack","e":0,"a":10},{"d":"CIFAR-10 (ResNet)","f":"FreqFed","m":"Our Attack","e":10,"a":10},{"d":"CIFAR-10 (ResNet)","f":"FreqFed","m":"Our Attack","e":20,"a":11},{"d":"CIFAR-10 (ResNet)","f":"FreqFed","m":"Our Attack","e":30,"a":12},{"d":"CIFAR-10 (ResNet)","f":"FreqFed","m":"Our Attack","e":40,"a":13},{"d":"CIFAR-10 (ResNet)","f":"FreqFed","m":"Our Attack","e":50,"a":15},{"d":"CIFAR-10 (ResNet)","f":"FreqFed","m":"Our Attack","e":60,"a":17},{"d":"CIFAR-10 (ResNet)","f":"FreqFed","m":"Our Attack","e":70,"a":19.5},{"d":"CIFAR-10 (ResNet)","f":"FreqFed","m":"Our Attack","e":79,"a":21},
{"d":"CIFAR-10 (ResNet)","f":"FLShield","m":"DP-opt-in","e":0,"a":10},{"d":"CIFAR-10 (ResNet)","f":"FLShield","m":"DP-opt-in","e":10,"a":10},{"d":"CIFAR-10 (ResNet)","f":"FLShield","m":"DP-opt-in","e":20,"a":10.5},{"d":"CIFAR-10 (ResNet)","f":"FLShield","m":"DP-opt-in","e":30,"a":11},{"d":"CIFAR-10 (ResNet)","f":"FLShield","m":"DP-opt-in","e":40,"a":11.5},{"d":"CIFAR-10 (ResNet)","f":"FLShield","m":"DP-opt-in","e":50,"a":12},{"d":"CIFAR-10 (ResNet)","f":"FLShield","m":"DP-opt-in","e":60,"a":12.5},{"d":"CIFAR-10 (ResNet)","f":"FLShield","m":"DP-opt-in","e":70,"a":13},{"d":"CIFAR-10 (ResNet)","f":"FLShield","m":"DP-opt-in","e":79,"a":13.5},
{"d":"CIFAR-10 (ResNet)","f":"FLShield","m":"DP-opt-out","e":0,"a":10},{"d":"CIFAR-10 (ResNet)","f":"FLShield","m":"DP-opt-out","e":10,"a":10},{"d":"CIFAR-10 (ResNet)","f":"FLShield","m":"DP-opt-out","e":20,"a":10.5},{"d":"CIFAR-10 (ResNet)","f":"FLShield","m":"DP-opt-out","e":30,"a":11},{"d":"CIFAR-10 (ResNet)","f":"FLShield","m":"DP-opt-out","e":40,"a":12},{"d":"CIFAR-10 (ResNet)","f":"FLShield","m":"DP-opt-out","e":50,"a":13},{"d":"CIFAR-10 (ResNet)","f":"FLShield","m":"DP-opt-out","e":60,"a":13.5},{"d":"CIFAR-10 (ResNet)","f":"FLShield","m":"DP-opt-out","e":70,"a":14},{"d":"CIFAR-10 (ResNet)","f":"FLShield","m":"DP-opt-out","e":79,"a":14.5},
{"d":"CIFAR-10 (ResNet)","f":"FLShield","m":"Our Attack","e":0,"a":10},{"d":"CIFAR-10 (ResNet)","f":"FLShield","m":"Our Attack","e":10,"a":10},{"d":"CIFAR-10 (ResNet)","f":"FLShield","m":"Our Attack","e":20,"a":10.5},{"d":"CIFAR-10 (ResNet)","f":"FLShield","m":"Our Attack","e":30,"a":11},{"d":"CIFAR-10 (ResNet)","f":"FLShield","m":"Our Attack","e":40,"a":11.5},{"d":"CIFAR-10 (ResNet)","f":"FLShield","m":"Our Attack","e":50,"a":12},{"d":"CIFAR-10 (ResNet)","f":"FLShield","m":"Our Attack","e":60,"a":12.5},{"d":"CIFAR-10 (ResNet)","f":"FLShield","m":"Our Attack","e":70,"a":13},{"d":"CIFAR-10 (ResNet)","f":"FLShield","m":"Our Attack","e":79,"a":13.5},
{"d":"CIFAR-100 (ViT)","f":"No Defense","m":"DP-opt-in","e":0,"a":2},{"d":"CIFAR-100 (ViT)","f":"No Defense","m":"DP-opt-in","e":10,"a":1.5},{"d":"CIFAR-100 (ViT)","f":"No Defense","m":"DP-opt-in","e":20,"a":1.5},{"d":"CIFAR-100 (ViT)","f":"No Defense","m":"DP-opt-in","e":30,"a":2},{"d":"CIFAR-100 (ViT)","f":"No Defense","m":"DP-opt-in","e":40,"a":2.5},{"d":"CIFAR-100 (ViT)","f":"No Defense","m":"DP-opt-in","e":50,"a":3},{"d":"CIFAR-100 (ViT)","f":"No Defense","m":"DP-opt-in","e":60,"a":3.5},{"d":"CIFAR-100 (ViT)","f":"No Defense","m":"DP-opt-in","e":70,"a":4},{"d":"CIFAR-100 (ViT)","f":"No Defense","m":"DP-opt-in","e":79,"a":4.5},
{"d":"CIFAR-100 (ViT)","f":"No Defense","m":"DP-opt-out","e":0,"a":1.5},{"d":"CIFAR-100 (ViT)","f":"No Defense","m":"DP-opt-out","e":10,"a":1.5},{"d":"CIFAR-100 (ViT)","f":"No Defense","m":"DP-opt-out","e":20,"a":1.5},{"d":"CIFAR-100 (ViT)","f":"No Defense","m":"DP-opt-out","e":30,"a":2},{"d":"CIFAR-100 (ViT)","f":"No Defense","m":"DP-opt-out","e":40,"a":2.5},{"d":"CIFAR-100 (ViT)","f":"No Defense","m":"DP-opt-out","e":50,"a":3.5},{"d":"CIFAR-100 (ViT)","f":"No Defense","m":"DP-opt-out","e":60,"a":4.5},{"d":"CIFAR-100 (ViT)","f":"No Defense","m":"DP-opt-out","e":70,"a":5.5},{"d":"CIFAR-100 (ViT)","f":"No Defense","m":"DP-opt-out","e":79,"a":6.5},
{"d":"CIFAR-100 (ViT)","f":"No Defense","m":"Our Attack","e":0,"a":2},{"d":"CIFAR-100 (ViT)","f":"No Defense","m":"Our Attack","e":10,"a":2},{"d":"CIFAR-100 (ViT)","f":"No Defense","m":"Our Attack","e":20,"a":2},{"d":"CIFAR-100 (ViT)","f":"No Defense","m":"Our Attack","e":30,"a":2.5},{"d":"CIFAR-100 (ViT)","f":"No Defense","m":"Our Attack","e":40,"a":3},{"d":"CIFAR-100 (ViT)","f":"No Defense","m":"Our Attack","e":50,"a":4},{"d":"CIFAR-100 (ViT)","f":"No Defense","m":"Our Attack","e":60,"a":5},{"d":"CIFAR-100 (ViT)","f":"No Defense","m":"Our Attack","e":70,"a":6},{"d":"CIFAR-100 (ViT)","f":"No Defense","m":"Our Attack","e":79,"a":7},
{"d":"CIFAR-100 (ViT)","f":"Deepsight","m":"DP-opt-in","e":0,"a":1.5},{"d":"CIFAR-100 (ViT)","f":"Deepsight","m":"DP-opt-in","e":10,"a":1.5},{"d":"CIFAR-100 (ViT)","f":"Deepsight","m":"DP-opt-in","e":20,"a":2},{"d":"CIFAR-100 (ViT)","f":"Deepsight","m":"DP-opt-in","e":30,"a":2.5},{"d":"CIFAR-100 (ViT)","f":"Deepsight","m":"DP-opt-in","e":40,"a":3},{"d":"CIFAR-100 (ViT)","f":"Deepsight","m":"DP-opt-in","e":50,"a":3.5},{"d":"CIFAR-100 (ViT)","f":"Deepsight","m":"DP-opt-in","e":60,"a":4},{"d":"CIFAR-100 (ViT)","f":"Deepsight","m":"DP-opt-in","e":70,"a":4.5},{"d":"CIFAR-100 (ViT)","f":"Deepsight","m":"DP-opt-in","e":79,"a":5},
{"d":"CIFAR-100 (ViT)","f":"Deepsight","m":"DP-opt-out","e":0,"a":1.5},{"d":"CIFAR-100 (ViT)","f":"Deepsight","m":"DP-opt-out","e":10,"a":2.5},{"d":"CIFAR-100 (ViT)","f":"Deepsight","m":"DP-opt-out","e":20,"a":3},{"d":"CIFAR-100 (ViT)","f":"Deepsight","m":"DP-opt-out","e":30,"a":4},{"d":"CIFAR-100 (ViT)","f":"Deepsight","m":"DP-opt-out","e":40,"a":4.5},{"d":"CIFAR-100 (ViT)","f":"Deepsight","m":"DP-opt-out","e":50,"a":5},{"d":"CIFAR-100 (ViT)","f":"Deepsight","m":"DP-opt-out","e":60,"a":5.5},{"d":"CIFAR-100 (ViT)","f":"Deepsight","m":"DP-opt-out","e":70,"a":6},{"d":"CIFAR-100 (ViT)","f":"Deepsight","m":"DP-opt-out","e":79,"a":6.5},
{"d":"CIFAR-100 (ViT)","f":"Deepsight","m":"Our Attack","e":0,"a":1.5},{"d":"CIFAR-100 (ViT)","f":"Deepsight","m":"Our Attack","e":10,"a":2},{"d":"CIFAR-100 (ViT)","f":"Deepsight","m":"Our Attack","e":20,"a":2.5},{"d":"CIFAR-100 (ViT)","f":"Deepsight","m":"Our Attack","e":30,"a":3},{"d":"CIFAR-100 (ViT)","f":"Deepsight","m":"Our Attack","e":40,"a":3.5},{"d":"CIFAR-100 (ViT)","f":"Deepsight","m":"Our Attack","e":50,"a":4},{"d":"CIFAR-100 (ViT)","f":"Deepsight","m":"Our Attack","e":60,"a":5},{"d":"CIFAR-100 (ViT)","f":"Deepsight","m":"Our Attack","e":70,"a":6},{"d":"CIFAR-100 (ViT)","f":"Deepsight","m":"Our Attack","e":79,"a":7},
{"d":"CIFAR-100 (ViT)","f":"Krum","m":"DP-opt-in","e":0,"a":2},{"d":"CIFAR-100 (ViT)","f":"Krum","m":"DP-opt-in","e":10,"a":1.5},{"d":"CIFAR-100 (ViT)","f":"Krum","m":"DP-opt-in","e":20,"a":1},{"d":"CIFAR-100 (ViT)","f":"Krum","m":"DP-opt-in","e":30,"a":1},{"d":"CIFAR-100 (ViT)","f":"Krum","m":"DP-opt-in","e":40,"a":1.5},{"d":"CIFAR-100 (ViT)","f":"Krum","m":"DP-opt-in","e":50,"a":2},{"d":"CIFAR-100 (ViT)","f":"Krum","m":"DP-opt-in","e":60,"a":2.5},{"d":"CIFAR-100 (ViT)","f":"Krum","m":"DP-opt-in","e":70,"a":3},{"d":"CIFAR-100 (ViT)","f":"Krum","m":"DP-opt-in","e":79,"a":3.5},
{"d":"CIFAR-100 (ViT)","f":"Krum","m":"DP-opt-out","e":0,"a":1.5},{"d":"CIFAR-100 (ViT)","f":"Krum","m":"DP-opt-out","e":10,"a":1},{"d":"CIFAR-100 (ViT)","f":"Krum","m":"DP-opt-out","e":20,"a":1},{"d":"CIFAR-100 (ViT)","f":"Krum","m":"DP-opt-out","e":30,"a":1.5},{"d":"CIFAR-100 (ViT)","f":"Krum","m":"DP-opt-out","e":40,"a":2.5},{"d":"CIFAR-100 (ViT)","f":"Krum","m":"DP-opt-out","e":50,"a":3.5},{"d":"CIFAR-100 (ViT)","f":"Krum","m":"DP-opt-out","e":60,"a":4.5},{"d":"CIFAR-100 (ViT)","f":"Krum","m":"DP-opt-out","e":70,"a":5.5},{"d":"CIFAR-100 (ViT)","f":"Krum","m":"DP-opt-out","e":79,"a":6},
{"d":"CIFAR-100 (ViT)","f":"Krum","m":"Our Attack","e":0,"a":1.5},{"d":"CIFAR-100 (ViT)","f":"Krum","m":"Our Attack","e":10,"a":1.5},{"d":"CIFAR-100 (ViT)","f":"Krum","m":"Our Attack","e":20,"a":1.5},{"d":"CIFAR-100 (ViT)","f":"Krum","m":"Our Attack","e":30,"a":2},{"d":"CIFAR-100 (ViT)","f":"Krum","m":"Our Attack","e":40,"a":3},{"d":"CIFAR-100 (ViT)","f":"Krum","m":"Our Attack","e":50,"a":4.5},{"d":"CIFAR-100 (ViT)","f":"Krum","m":"Our Attack","e":60,"a":5.5},{"d":"CIFAR-100 (ViT)","f":"Krum","m":"Our Attack","e":70,"a":7},{"d":"CIFAR-100 (ViT)","f":"Krum","m":"Our Attack","e":79,"a":7},
{"d":"CIFAR-100 (ViT)","f":"Flame","m":"DP-opt-in","e":0,"a":1},{"d":"CIFAR-100 (ViT)","f":"Flame","m":"DP-opt-in","e":10,"a":1},{"d":"CIFAR-100 (ViT)","f":"Flame","m":"DP-opt-in","e":20,"a":1},{"d":"CIFAR-100 (ViT)","f":"Flame","m":"DP-opt-in","e":30,"a":1},{"d":"CIFAR-100 (ViT)","f":"Flame","m":"DP-opt-in","e":40,"a":1},{"d":"CIFAR-100 (ViT)","f":"Flame","m":"DP-opt-in","e":50,"a":1},{"d":"CIFAR-100 (ViT)","f":"Flame","m":"DP-opt-in","e":60,"a":1},{"d":"CIFAR-100 (ViT)","f":"Flame","m":"DP-opt-in","e":70,"a":1},{"d":"CIFAR-100 (ViT)","f":"Flame","m":"DP-opt-in","e":79,"a":1},
{"d":"CIFAR-100 (ViT)","f":"Flame","m":"DP-opt-out","e":0,"a":1},{"d":"CIFAR-100 (ViT)","f":"Flame","m":"DP-opt-out","e":10,"a":1},{"d":"CIFAR-100 (ViT)","f":"Flame","m":"DP-opt-out","e":20,"a":1},{"d":"CIFAR-100 (ViT)","f":"Flame","m":"DP-opt-out","e":30,"a":1},{"d":"CIFAR-100 (ViT)","f":"Flame","m":"DP-opt-out","e":40,"a":1},{"d":"CIFAR-100 (ViT)","f":"Flame","m":"DP-opt-out","e":50,"a":1},{"d":"CIFAR-100 (ViT)","f":"Flame","m":"DP-opt-out","e":60,"a":1},{"d":"CIFAR-100 (ViT)","f":"Flame","m":"DP-opt-out","e":70,"a":1},{"d":"CIFAR-100 (ViT)","f":"Flame","m":"DP-opt-out","e":79,"a":1.2},
{"d":"CIFAR-100 (ViT)","f":"Flame","m":"Our Attack","e":0,"a":1},{"d":"CIFAR-100 (ViT)","f":"Flame","m":"Our Attack","e":10,"a":1},{"d":"CIFAR-100 (ViT)","f":"Flame","m":"Our Attack","e":20,"a":1},{"d":"CIFAR-100 (ViT)","f":"Flame","m":"Our Attack","e":30,"a":1},{"d":"CIFAR-100 (ViT)","f":"Flame","m":"Our Attack","e":40,"a":1},{"d":"CIFAR-100 (ViT)","f":"Flame","m":"Our Attack","e":50,"a":1},{"d":"CIFAR-100 (ViT)","f":"Flame","m":"Our Attack","e":60,"a":1},{"d":"CIFAR-100 (ViT)","f":"Flame","m":"Our Attack","e":70,"a":1},{"d":"CIFAR-100 (ViT)","f":"Flame","m":"Our Attack","e":79,"a":1},
{"d":"CIFAR-100 (ViT)","f":"MESAS","m":"DP-opt-in","e":0,"a":1},{"d":"CIFAR-100 (ViT)","f":"MESAS","m":"DP-opt-in","e":10,"a":1},{"d":"CIFAR-100 (ViT)","f":"MESAS","m":"DP-opt-in","e":20,"a":1},{"d":"CIFAR-100 (ViT)","f":"MESAS","m":"DP-opt-in","e":30,"a":1},{"d":"CIFAR-100 (ViT)","f":"MESAS","m":"DP-opt-in","e":40,"a":1.5},{"d":"CIFAR-100 (ViT)","f":"MESAS","m":"DP-opt-in","e":50,"a":1.5},{"d":"CIFAR-100 (ViT)","f":"MESAS","m":"DP-opt-in","e":60,"a":1.5},{"d":"CIFAR-100 (ViT)","f":"MESAS","m":"DP-opt-in","e":70,"a":2},{"d":"CIFAR-100 (ViT)","f":"MESAS","m":"DP-opt-in","e":79,"a":2},
{"d":"CIFAR-100 (ViT)","f":"MESAS","m":"DP-opt-out","e":0,"a":1},{"d":"CIFAR-100 (ViT)","f":"MESAS","m":"DP-opt-out","e":10,"a":1.5},{"d":"CIFAR-100 (ViT)","f":"MESAS","m":"DP-opt-out","e":20,"a":1.5},{"d":"CIFAR-100 (ViT)","f":"MESAS","m":"DP-opt-out","e":30,"a":2},{"d":"CIFAR-100 (ViT)","f":"MESAS","m":"DP-opt-out","e":40,"a":2.5},{"d":"CIFAR-100 (ViT)","f":"MESAS","m":"DP-opt-out","e":50,"a":3},{"d":"CIFAR-100 (ViT)","f":"MESAS","m":"DP-opt-out","e":60,"a":4},{"d":"CIFAR-100 (ViT)","f":"MESAS","m":"DP-opt-out","e":70,"a":5},{"d":"CIFAR-100 (ViT)","f":"MESAS","m":"DP-opt-out","e":79,"a":5.5},
{"d":"CIFAR-100 (ViT)","f":"MESAS","m":"Our Attack","e":0,"a":1},{"d":"CIFAR-100 (ViT)","f":"MESAS","m":"Our Attack","e":10,"a":1.5},{"d":"CIFAR-100 (ViT)","f":"MESAS","m":"Our Attack","e":20,"a":1.5},{"d":"CIFAR-100 (ViT)","f":"MESAS","m":"Our Attack","e":30,"a":2},{"d":"CIFAR-100 (ViT)","f":"MESAS","m":"Our Attack","e":40,"a":2.5},{"d":"CIFAR-100 (ViT)","f":"MESAS","m":"Our Attack","e":50,"a":2.5},{"d":"CIFAR-100 (ViT)","f":"MESAS","m":"Our Attack","e":60,"a":3},{"d":"CIFAR-100 (ViT)","f":"MESAS","m":"Our Attack","e":70,"a":3.5},{"d":"CIFAR-100 (ViT)","f":"MESAS","m":"Our Attack","e":79,"a":4},
{"d":"CIFAR-100 (ViT)","f":"FreqFed","m":"DP-opt-in","e":0,"a":1},{"d":"CIFAR-100 (ViT)","f":"FreqFed","m":"DP-opt-in","e":10,"a":1},{"d":"CIFAR-100 (ViT)","f":"FreqFed","m":"DP-opt-in","e":20,"a":1},{"d":"CIFAR-100 (ViT)","f":"FreqFed","m":"DP-opt-in","e":30,"a":1.5},{"d":"CIFAR-100 (ViT)","f":"FreqFed","m":"DP-opt-in","e":40,"a":2},{"d":"CIFAR-100 (ViT)","f":"FreqFed","m":"DP-opt-in","e":50,"a":2.5},{"d":"CIFAR-100 (ViT)","f":"FreqFed","m":"DP-opt-in","e":60,"a":3},{"d":"CIFAR-100 (ViT)","f":"FreqFed","m":"DP-opt-in","e":70,"a":3.5},{"d":"CIFAR-100 (ViT)","f":"FreqFed","m":"DP-opt-in","e":79,"a":4},
{"d":"CIFAR-100 (ViT)","f":"FreqFed","m":"DP-opt-out","e":0,"a":1},{"d":"CIFAR-100 (ViT)","f":"FreqFed","m":"DP-opt-out","e":10,"a":1},{"d":"CIFAR-100 (ViT)","f":"FreqFed","m":"DP-opt-out","e":20,"a":1.5},{"d":"CIFAR-100 (ViT)","f":"FreqFed","m":"DP-opt-out","e":30,"a":2},{"d":"CIFAR-100 (ViT)","f":"FreqFed","m":"DP-opt-out","e":40,"a":3},{"d":"CIFAR-100 (ViT)","f":"FreqFed","m":"DP-opt-out","e":50,"a":4},{"d":"CIFAR-100 (ViT)","f":"FreqFed","m":"DP-opt-out","e":60,"a":5},{"d":"CIFAR-100 (ViT)","f":"FreqFed","m":"DP-opt-out","e":70,"a":6},{"d":"CIFAR-100 (ViT)","f":"FreqFed","m":"DP-opt-out","e":79,"a":6.5},
{"d":"CIFAR-100 (ViT)","f":"FreqFed","m":"Our Attack","e":0,"a":1},{"d":"CIFAR-100 (ViT)","f":"FreqFed","m":"Our Attack","e":10,"a":1.5},{"d":"CIFAR-100 (ViT)","f":"FreqFed","m":"Our Attack","e":20,"a":1.5},{"d":"CIFAR-100 (ViT)","f":"FreqFed","m":"Our Attack","e":30,"a":2},{"d":"CIFAR-100 (ViT)","f":"FreqFed","m":"Our Attack","e":40,"a":3},{"d":"CIFAR-100 (ViT)","f":"FreqFed","m":"Our Attack","e":50,"a":4},{"d":"CIFAR-100 (ViT)","f":"FreqFed","m":"Our Attack","e":60,"a":5},{"d":"CIFAR-100 (ViT)","f":"FreqFed","m":"Our Attack","e":70,"a":6.5},{"d":"CIFAR-100 (ViT)","f":"FreqFed","m":"Our Attack","e":79,"a":7},
{"d":"CIFAR-100 (ViT)","f":"FLShield","m":"DP-opt-in","e":0,"a":1},{"d":"CIFAR-100 (ViT)","f":"FLShield","m":"DP-opt-in","e":10,"a":1},{"d":"CIFAR-100 (ViT)","f":"FLShield","m":"DP-opt-in","e":20,"a":1.5},{"d":"CIFAR-100 (ViT)","f":"FLShield","m":"DP-opt-in","e":30,"a":1.5},{"d":"CIFAR-100 (ViT)","f":"FLShield","m":"DP-opt-in","e":40,"a":2},{"d":"CIFAR-100 (ViT)","f":"FLShield","m":"DP-opt-in","e":50,"a":2.5},{"d":"CIFAR-100 (ViT)","f":"FLShield","m":"DP-opt-in","e":60,"a":2.5},{"d":"CIFAR-100 (ViT)","f":"FLShield","m":"DP-opt-in","e":70,"a":3},{"d":"CIFAR-100 (ViT)","f":"FLShield","m":"DP-opt-in","e":79,"a":3.5},
{"d":"CIFAR-100 (ViT)","f":"FLShield","m":"DP-opt-out","e":0,"a":1},{"d":"CIFAR-100 (ViT)","f":"FLShield","m":"DP-opt-out","e":10,"a":1},{"d":"CIFAR-100 (ViT)","f":"FLShield","m":"DP-opt-out","e":20,"a":1.5},{"d":"CIFAR-100 (ViT)","f":"FLShield","m":"DP-opt-out","e":30,"a":2},{"d":"CIFAR-100 (ViT)","f":"FLShield","m":"DP-opt-out","e":40,"a":2},{"d":"CIFAR-100 (ViT)","f":"FLShield","m":"DP-opt-out","e":50,"a":2.5},{"d":"CIFAR-100 (ViT)","f":"FLShield","m":"DP-opt-out","e":60,"a":3},{"d":"CIFAR-100 (ViT)","f":"FLShield","m":"DP-opt-out","e":70,"a":3.5},{"d":"CIFAR-100 (ViT)","f":"FLShield","m":"DP-opt-out","e":79,"a":4},
{"d":"CIFAR-100 (ViT)","f":"FLShield","m":"Our Attack","e":0,"a":1},{"d":"CIFAR-100 (ViT)","f":"FLShield","m":"Our Attack","e":10,"a":1.5},{"d":"CIFAR-100 (ViT)","f":"FLShield","m":"Our Attack","e":20,"a":1.5},{"d":"CIFAR-100 (ViT)","f":"FLShield","m":"Our Attack","e":30,"a":2},{"d":"CIFAR-100 (ViT)","f":"FLShield","m":"Our Attack","e":40,"a":2.5},{"d":"CIFAR-100 (ViT)","f":"FLShield","m":"Our Attack","e":50,"a":3},{"d":"CIFAR-100 (ViT)","f":"FLShield","m":"Our Attack","e":60,"a":3.5},{"d":"CIFAR-100 (ViT)","f":"FLShield","m":"Our Attack","e":70,"a":4},{"d":"CIFAR-100 (ViT)","f":"FLShield","m":"Our Attack","e":79,"a":4.5},
{"d":"Sentiment-140 (MLP)","f":"No Defense","m":"DP-opt-in","e":0,"a":56},{"d":"Sentiment-140 (MLP)","f":"No Defense","m":"DP-opt-in","e":10,"a":59},{"d":"Sentiment-140 (MLP)","f":"No Defense","m":"DP-opt-in","e":20,"a":61},{"d":"Sentiment-140 (MLP)","f":"No Defense","m":"DP-opt-in","e":30,"a":62.4},{"d":"Sentiment-140 (MLP)","f":"No Defense","m":"DP-opt-in","e":40,"a":63},{"d":"Sentiment-140 (MLP)","f":"No Defense","m":"DP-opt-in","e":50,"a":63},{"d":"Sentiment-140 (MLP)","f":"No Defense","m":"DP-opt-in","e":60,"a":63},{"d":"Sentiment-140 (MLP)","f":"No Defense","m":"DP-opt-in","e":70,"a":63},{"d":"Sentiment-140 (MLP)","f":"No Defense","m":"DP-opt-in","e":79,"a":63},
{"d":"Sentiment-140 (MLP)","f":"No Defense","m":"DP-opt-out","e":0,"a":51},{"d":"Sentiment-140 (MLP)","f":"No Defense","m":"DP-opt-out","e":10,"a":52.6},{"d":"Sentiment-140 (MLP)","f":"No Defense","m":"DP-opt-out","e":20,"a":54},{"d":"Sentiment-140 (MLP)","f":"No Defense","m":"DP-opt-out","e":30,"a":55},{"d":"Sentiment-140 (MLP)","f":"No Defense","m":"DP-opt-out","e":40,"a":55.5},{"d":"Sentiment-140 (MLP)","f":"No Defense","m":"DP-opt-out","e":50,"a":55.5},{"d":"Sentiment-140 (MLP)","f":"No Defense","m":"DP-opt-out","e":60,"a":56},{"d":"Sentiment-140 (MLP)","f":"No Defense","m":"DP-opt-out","e":70,"a":56},{"d":"Sentiment-140 (MLP)","f":"No Defense","m":"DP-opt-out","e":79,"a":56.4},
{"d":"Sentiment-140 (MLP)","f":"No Defense","m":"Our Attack","e":0,"a":46},{"d":"Sentiment-140 (MLP)","f":"No Defense","m":"Our Attack","e":10,"a":51},{"d":"Sentiment-140 (MLP)","f":"No Defense","m":"Our Attack","e":20,"a":54},{"d":"Sentiment-140 (MLP)","f":"No Defense","m":"Our Attack","e":30,"a":56},{"d":"Sentiment-140 (MLP)","f":"No Defense","m":"Our Attack","e":40,"a":57},{"d":"Sentiment-140 (MLP)","f":"No Defense","m":"Our Attack","e":50,"a":58},{"d":"Sentiment-140 (MLP)","f":"No Defense","m":"Our Attack","e":60,"a":58},{"d":"Sentiment-140 (MLP)","f":"No Defense","m":"Our Attack","e":70,"a":58.5},{"d":"Sentiment-140 (MLP)","f":"No Defense","m":"Our Attack","e":79,"a":59},
{"d":"Sentiment-140 (MLP)","f":"Deepsight","m":"DP-opt-in","e":0,"a":51},{"d":"Sentiment-140 (MLP)","f":"Deepsight","m":"DP-opt-in","e":10,"a":53.4},{"d":"Sentiment-140 (MLP)","f":"Deepsight","m":"DP-opt-in","e":20,"a":56.4},{"d":"Sentiment-140 (MLP)","f":"Deepsight","m":"DP-opt-in","e":30,"a":57.3},{"d":"Sentiment-140 (MLP)","f":"Deepsight","m":"DP-opt-in","e":40,"a":57.7},{"d":"Sentiment-140 (MLP)","f":"Deepsight","m":"DP-opt-in","e":50,"a":58},{"d":"Sentiment-140 (MLP)","f":"Deepsight","m":"DP-opt-in","e":60,"a":58},{"d":"Sentiment-140 (MLP)","f":"Deepsight","m":"DP-opt-in","e":70,"a":58},{"d":"Sentiment-140 (MLP)","f":"Deepsight","m":"DP-opt-in","e":79,"a":58},
{"d":"Sentiment-140 (MLP)","f":"Deepsight","m":"DP-opt-out","e":0,"a":54},{"d":"Sentiment-140 (MLP)","f":"Deepsight","m":"DP-opt-out","e":10,"a":55},{"d":"Sentiment-140 (MLP)","f":"Deepsight","m":"DP-opt-out","e":20,"a":56.4},{"d":"Sentiment-140 (MLP)","f":"Deepsight","m":"DP-opt-out","e":30,"a":57.3},{"d":"Sentiment-140 (MLP)","f":"Deepsight","m":"DP-opt-out","e":40,"a":57.7},{"d":"Sentiment-140 (MLP)","f":"Deepsight","m":"DP-opt-out","e":50,"a":58},{"d":"Sentiment-140 (MLP)","f":"Deepsight","m":"DP-opt-out","e":60,"a":58.5},{"d":"Sentiment-140 (MLP)","f":"Deepsight","m":"DP-opt-out","e":70,"a":59},{"d":"Sentiment-140 (MLP)","f":"Deepsight","m":"DP-opt-out","e":79,"a":59.4},
{"d":"Sentiment-140 (MLP)","f":"Deepsight","m":"Our Attack","e":0,"a":49},{"d":"Sentiment-140 (MLP)","f":"Deepsight","m":"Our Attack","e":10,"a":53},{"d":"Sentiment-140 (MLP)","f":"Deepsight","m":"Our Attack","e":20,"a":56.4},{"d":"Sentiment-140 (MLP)","f":"Deepsight","m":"Our Attack","e":30,"a":57.3},{"d":"Sentiment-140 (MLP)","f":"Deepsight","m":"Our Attack","e":40,"a":57.7},{"d":"Sentiment-140 (MLP)","f":"Deepsight","m":"Our Attack","e":50,"a":58},{"d":"Sentiment-140 (MLP)","f":"Deepsight","m":"Our Attack","e":60,"a":58.5},{"d":"Sentiment-140 (MLP)","f":"Deepsight","m":"Our Attack","e":70,"a":59},{"d":"Sentiment-140 (MLP)","f":"Deepsight","m":"Our Attack","e":79,"a":59.4},
{"d":"Sentiment-140 (MLP)","f":"Krum","m":"DP-opt-in","e":0,"a":55.5},{"d":"Sentiment-140 (MLP)","f":"Krum","m":"DP-opt-in","e":10,"a":56.4},{"d":"Sentiment-140 (MLP)","f":"Krum","m":"DP-opt-in","e":20,"a":57.3},{"d":"Sentiment-140 (MLP)","f":"Krum","m":"DP-opt-in","e":30,"a":58.5},{"d":"Sentiment-140 (MLP)","f":"Krum","m":"DP-opt-in","e":40,"a":59.4},{"d":"Sentiment-140 (MLP)","f":"Krum","m":"DP-opt-in","e":50,"a":60},{"d":"Sentiment-140 (MLP)","f":"Krum","m":"DP-opt-in","e":60,"a":60.3},{"d":"Sentiment-140 (MLP)","f":"Krum","m":"DP-opt-in","e":70,"a":60.7},{"d":"Sentiment-140 (MLP)","f":"Krum","m":"DP-opt-in","e":79,"a":60.7},
{"d":"Sentiment-140 (MLP)","f":"Krum","m":"DP-opt-out","e":0,"a":54},{"d":"Sentiment-140 (MLP)","f":"Krum","m":"DP-opt-out","e":10,"a":55},{"d":"Sentiment-140 (MLP)","f":"Krum","m":"DP-opt-out","e":20,"a":55},{"d":"Sentiment-140 (MLP)","f":"Krum","m":"DP-opt-out","e":30,"a":55},{"d":"Sentiment-140 (MLP)","f":"Krum","m":"DP-opt-out","e":40,"a":55},{"d":"Sentiment-140 (MLP)","f":"Krum","m":"DP-opt-out","e":50,"a":55},{"d":"Sentiment-140 (MLP)","f":"Krum","m":"DP-opt-out","e":60,"a":55},{"d":"Sentiment-140 (MLP)","f":"Krum","m":"DP-opt-out","e":70,"a":55},{"d":"Sentiment-140 (MLP)","f":"Krum","m":"DP-opt-out","e":79,"a":55},
{"d":"Sentiment-140 (MLP)","f":"Krum","m":"Our Attack","e":0,"a":55.5},{"d":"Sentiment-140 (MLP)","f":"Krum","m":"Our Attack","e":10,"a":56},{"d":"Sentiment-140 (MLP)","f":"Krum","m":"Our Attack","e":20,"a":56.4},{"d":"Sentiment-140 (MLP)","f":"Krum","m":"Our Attack","e":30,"a":57},{"d":"Sentiment-140 (MLP)","f":"Krum","m":"Our Attack","e":40,"a":57.3},{"d":"Sentiment-140 (MLP)","f":"Krum","m":"Our Attack","e":50,"a":57.7},{"d":"Sentiment-140 (MLP)","f":"Krum","m":"Our Attack","e":60,"a":57.7},{"d":"Sentiment-140 (MLP)","f":"Krum","m":"Our Attack","e":70,"a":58},{"d":"Sentiment-140 (MLP)","f":"Krum","m":"Our Attack","e":79,"a":58},
{"d":"Sentiment-140 (MLP)","f":"Flame","m":"DP-opt-in","e":0,"a":46},{"d":"Sentiment-140 (MLP)","f":"Flame","m":"DP-opt-in","e":10,"a":52.6},{"d":"Sentiment-140 (MLP)","f":"Flame","m":"DP-opt-in","e":20,"a":54.7},{"d":"Sentiment-140 (MLP)","f":"Flame","m":"DP-opt-in","e":30,"a":55.5},{"d":"Sentiment-140 (MLP)","f":"Flame","m":"DP-opt-in","e":40,"a":55.5},{"d":"Sentiment-140 (MLP)","f":"Flame","m":"DP-opt-in","e":50,"a":56.4},{"d":"Sentiment-140 (MLP)","f":"Flame","m":"DP-opt-in","e":60,"a":57},{"d":"Sentiment-140 (MLP)","f":"Flame","m":"DP-opt-in","e":70,"a":57.3},{"d":"Sentiment-140 (MLP)","f":"Flame","m":"DP-opt-in","e":79,"a":58},
{"d":"Sentiment-140 (MLP)","f":"Flame","m":"DP-opt-out","e":0,"a":51},{"d":"Sentiment-140 (MLP)","f":"Flame","m":"DP-opt-out","e":10,"a":53},{"d":"Sentiment-140 (MLP)","f":"Flame","m":"DP-opt-out","e":20,"a":53},{"d":"Sentiment-140 (MLP)","f":"Flame","m":"DP-opt-out","e":30,"a":53.4},{"d":"Sentiment-140 (MLP)","f":"Flame","m":"DP-opt-out","e":40,"a":53.4},{"d":"Sentiment-140 (MLP)","f":"Flame","m":"DP-opt-out","e":50,"a":53.8},{"d":"Sentiment-140 (MLP)","f":"Flame","m":"DP-opt-out","e":60,"a":53.8},{"d":"Sentiment-140 (MLP)","f":"Flame","m":"DP-opt-out","e":70,"a":53.8},{"d":"Sentiment-140 (MLP)","f":"Flame","m":"DP-opt-out","e":79,"a":54.7},
{"d":"Sentiment-140 (MLP)","f":"Flame","m":"Our Attack","e":0,"a":53.4},{"d":"Sentiment-140 (MLP)","f":"Flame","m":"Our Attack","e":10,"a":54.7},{"d":"Sentiment-140 (MLP)","f":"Flame","m":"Our Attack","e":20,"a":56.4},{"d":"Sentiment-140 (MLP)","f":"Flame","m":"Our Attack","e":30,"a":56},{"d":"Sentiment-140 (MLP)","f":"Flame","m":"Our Attack","e":40,"a":56.4},{"d":"Sentiment-140 (MLP)","f":"Flame","m":"Our Attack","e":50,"a":57},{"d":"Sentiment-140 (MLP)","f":"Flame","m":"Our Attack","e":60,"a":57.3},{"d":"Sentiment-140 (MLP)","f":"Flame","m":"Our Attack","e":70,"a":57.7},{"d":"Sentiment-140 (MLP)","f":"Flame","m":"Our Attack","e":79,"a":58.5},
{"d":"Sentiment-140 (MLP)","f":"MESAS","m":"DP-opt-in","e":0,"a":47},{"d":"Sentiment-140 (MLP)","f":"MESAS","m":"DP-opt-in","e":10,"a":48.3},{"d":"Sentiment-140 (MLP)","f":"MESAS","m":"DP-opt-in","e":20,"a":54},{"d":"Sentiment-140 (MLP)","f":"MESAS","m":"DP-opt-in","e":30,"a":56.4},{"d":"Sentiment-140 (MLP)","f":"MESAS","m":"DP-opt-in","e":40,"a":57.7},{"d":"Sentiment-140 (MLP)","f":"MESAS","m":"DP-opt-in","e":50,"a":58.5},{"d":"Sentiment-140 (MLP)","f":"MESAS","m":"DP-opt-in","e":60,"a":59},{"d":"Sentiment-140 (MLP)","f":"MESAS","m":"DP-opt-in","e":70,"a":59},{"d":"Sentiment-140 (MLP)","f":"MESAS","m":"DP-opt-in","e":79,"a":58.5},
{"d":"Sentiment-140 (MLP)","f":"MESAS","m":"DP-opt-out","e":0,"a":45},{"d":"Sentiment-140 (MLP)","f":"MESAS","m":"DP-opt-out","e":10,"a":45},{"d":"Sentiment-140 (MLP)","f":"MESAS","m":"DP-opt-out","e":20,"a":47},{"d":"Sentiment-140 (MLP)","f":"MESAS","m":"DP-opt-out","e":30,"a":48.3},{"d":"Sentiment-140 (MLP)","f":"MESAS","m":"DP-opt-out","e":40,"a":49},{"d":"Sentiment-140 (MLP)","f":"MESAS","m":"DP-opt-out","e":50,"a":50},{"d":"Sentiment-140 (MLP)","f":"MESAS","m":"DP-opt-out","e":60,"a":51},{"d":"Sentiment-140 (MLP)","f":"MESAS","m":"DP-opt-out","e":70,"a":51.3},{"d":"Sentiment-140 (MLP)","f":"MESAS","m":"DP-opt-out","e":79,"a":51.7},
{"d":"Sentiment-140 (MLP)","f":"MESAS","m":"Our Attack","e":0,"a":50},{"d":"Sentiment-140 (MLP)","f":"MESAS","m":"Our Attack","e":10,"a":49.6},{"d":"Sentiment-140 (MLP)","f":"MESAS","m":"Our Attack","e":20,"a":51.3},{"d":"Sentiment-140 (MLP)","f":"MESAS","m":"Our Attack","e":30,"a":51.7},{"d":"Sentiment-140 (MLP)","f":"MESAS","m":"Our Attack","e":40,"a":52},{"d":"Sentiment-140 (MLP)","f":"MESAS","m":"Our Attack","e":50,"a":52},{"d":"Sentiment-140 (MLP)","f":"MESAS","m":"Our Attack","e":60,"a":52.6},{"d":"Sentiment-140 (MLP)","f":"MESAS","m":"Our Attack","e":70,"a":52.6},{"d":"Sentiment-140 (MLP)","f":"MESAS","m":"Our Attack","e":79,"a":52.6},
{"d":"Sentiment-140 (MLP)","f":"FreqFed","m":"DP-opt-in","e":0,"a":51},{"d":"Sentiment-140 (MLP)","f":"FreqFed","m":"DP-opt-in","e":10,"a":50.4},{"d":"Sentiment-140 (MLP)","f":"FreqFed","m":"DP-opt-in","e":20,"a":51},{"d":"Sentiment-140 (MLP)","f":"FreqFed","m":"DP-opt-in","e":30,"a":52},{"d":"Sentiment-140 (MLP)","f":"FreqFed","m":"DP-opt-in","e":40,"a":52},{"d":"Sentiment-140 (MLP)","f":"FreqFed","m":"DP-opt-in","e":50,"a":52},{"d":"Sentiment-140 (MLP)","f":"FreqFed","m":"DP-opt-in","e":60,"a":52},{"d":"Sentiment-140 (MLP)","f":"FreqFed","m":"DP-opt-in","e":70,"a":52},{"d":"Sentiment-140 (MLP)","f":"FreqFed","m":"DP-opt-in","e":79,"a":52},
{"d":"Sentiment-140 (MLP)","f":"FreqFed","m":"DP-opt-out","e":0,"a":48},{"d":"Sentiment-140 (MLP)","f":"FreqFed","m":"DP-opt-out","e":10,"a":55},{"d":"Sentiment-140 (MLP)","f":"FreqFed","m":"DP-opt-out","e":20,"a":59},{"d":"Sentiment-140 (MLP)","f":"FreqFed","m":"DP-opt-out","e":30,"a":61.5},{"d":"Sentiment-140 (MLP)","f":"FreqFed","m":"DP-opt-out","e":40,"a":63},{"d":"Sentiment-140 (MLP)","f":"FreqFed","m":"DP-opt-out","e":50,"a":64},{"d":"Sentiment-140 (MLP)","f":"FreqFed","m":"DP-opt-out","e":60,"a":64.5},{"d":"Sentiment-140 (MLP)","f":"FreqFed","m":"DP-opt-out","e":70,"a":64.5},{"d":"Sentiment-140 (MLP)","f":"FreqFed","m":"DP-opt-out","e":79,"a":65},
{"d":"Sentiment-140 (MLP)","f":"FreqFed","m":"Our Attack","e":0,"a":52.6},{"d":"Sentiment-140 (MLP)","f":"FreqFed","m":"Our Attack","e":10,"a":54.3},{"d":"Sentiment-140 (MLP)","f":"FreqFed","m":"Our Attack","e":20,"a":55.5},{"d":"Sentiment-140 (MLP)","f":"FreqFed","m":"Our Attack","e":30,"a":57},{"d":"Sentiment-140 (MLP)","f":"FreqFed","m":"Our Attack","e":40,"a":57.7},{"d":"Sentiment-140 (MLP)","f":"FreqFed","m":"Our Attack","e":50,"a":58.5},{"d":"Sentiment-140 (MLP)","f":"FreqFed","m":"Our Attack","e":60,"a":59},{"d":"Sentiment-140 (MLP)","f":"FreqFed","m":"Our Attack","e":70,"a":59.4},{"d":"Sentiment-140 (MLP)","f":"FreqFed","m":"Our Attack","e":79,"a":59.4},
{"d":"Sentiment-140 (MLP)","f":"FLShield","m":"DP-opt-in","e":0,"a":47},{"d":"Sentiment-140 (MLP)","f":"FLShield","m":"DP-opt-in","e":10,"a":53},{"d":"Sentiment-140 (MLP)","f":"FLShield","m":"DP-opt-in","e":20,"a":55.3},{"d":"Sentiment-140 (MLP)","f":"FLShield","m":"DP-opt-in","e":30,"a":56.4},{"d":"Sentiment-140 (MLP)","f":"FLShield","m":"DP-opt-in","e":40,"a":56.4},{"d":"Sentiment-140 (MLP)","f":"FLShield","m":"DP-opt-in","e":50,"a":57},{"d":"Sentiment-140 (MLP)","f":"FLShield","m":"DP-opt-in","e":60,"a":57.3},{"d":"Sentiment-140 (MLP)","f":"FLShield","m":"DP-opt-in","e":70,"a":57.3},{"d":"Sentiment-140 (MLP)","f":"FLShield","m":"DP-opt-in","e":79,"a":57.3},
{"d":"Sentiment-140 (MLP)","f":"FLShield","m":"DP-opt-out","e":0,"a":49},{"d":"Sentiment-140 (MLP)","f":"FLShield","m":"DP-opt-out","e":10,"a":52},{"d":"Sentiment-140 (MLP)","f":"FLShield","m":"DP-opt-out","e":20,"a":53},{"d":"Sentiment-140 (MLP)","f":"FLShield","m":"DP-opt-out","e":30,"a":53.4},{"d":"Sentiment-140 (MLP)","f":"FLShield","m":"DP-opt-out","e":40,"a":53.8},{"d":"Sentiment-140 (MLP)","f":"FLShield","m":"DP-opt-out","e":50,"a":54.3},{"d":"Sentiment-140 (MLP)","f":"FLShield","m":"DP-opt-out","e":60,"a":54.7},{"d":"Sentiment-140 (MLP)","f":"FLShield","m":"DP-opt-out","e":70,"a":55},{"d":"Sentiment-140 (MLP)","f":"FLShield","m":"DP-opt-out","e":79,"a":55.5},
{"d":"Sentiment-140 (MLP)","f":"FLShield","m":"Our Attack","e":0,"a":54.3},{"d":"Sentiment-140 (MLP)","f":"FLShield","m":"Our Attack","e":10,"a":55.5},{"d":"Sentiment-140 (MLP)","f":"FLShield","m":"Our Attack","e":20,"a":57.7},{"d":"Sentiment-140 (MLP)","f":"FLShield","m":"Our Attack","e":30,"a":58.5},{"d":"Sentiment-140 (MLP)","f":"FLShield","m":"Our Attack","e":40,"a":59},{"d":"Sentiment-140 (MLP)","f":"FLShield","m":"Our Attack","e":50,"a":59},{"d":"Sentiment-140 (MLP)","f":"FLShield","m":"Our Attack","e":60,"a":59},{"d":"Sentiment-140 (MLP)","f":"FLShield","m":"Our Attack","e":70,"a":59},{"d":"Sentiment-140 (MLP)","f":"FLShield","m":"Our Attack","e":79,"a":59}
]},
"vconcat": [
{
 "data": {"name": "acc"},
 "transform": [{"filter": "datum.d == 'MNIST (CNN)'"}],
 "facet": {
  "row": {"field": "d", "type": "nominal", "title": null, "header": {"labelExpr": "split(datum.value, ' ')", "labelAngle": -90, "labelFontSize": 12.2, "labelPadding": 0, "labelLineHeight": 14}},
  "column": {"field": "f", "type": "nominal", "sort": ["No Defense","Deepsight","Krum","Flame","MESAS","FreqFed","FLShield"], "title": null, "header": {"labelFontSize": 14.7, "labelPadding": 0.5}}
 },
 "spacing": {"column": 10, "row": 0},
 "spec": {
  "width": 148, "height": 80,
  "encoding": {
   "x": {"field": "e", "type": "quantitative", "scale": {"domain": [0, 79], "nice": false}, "axis": {"labels": false, "title": null, "values": [0,20,40,60]}},
   "y": {"field": "a", "type": "quantitative", "scale": {"domain": [0, 105], "nice": false}, "axis": {"values": [0,50,100], "title": "Acc", "titleAngle": 0, "titleAlign": "right", "titleBaseline": "alphabetic", "titleX": -1.5, "titleY": -5, "titleFontSize": 13.5}},
   "color": {"field": "m", "type": "nominal", "title": null, "scale": {"domain": ["DP-opt-in","DP-opt-out","Our Attack"], "range": ["#1f77b4","#d62728","#2ca02c"]}}
  },
  "layer": [
   {"mark": {"type": "line", "strokeWidth": 1.3, "interpolate": "monotone", "clip": true}},
   {"transform": [{"filter": "datum.e <= 70"}],
    "mark": {"type": "point", "filled": true, "opacity": 1, "size": 207, "strokeWidth": 0, "clip": true},
    "encoding": {
     "stroke": {"field": "m", "type": "nominal", "title": null, "scale": {"domain": ["DP-opt-in","DP-opt-out","Our Attack"], "range": ["#1f77b4","#d62728","#2ca02c"]}},
     "shape": {"field": "m", "type": "nominal", "title": null, "scale": {"domain": ["DP-opt-in","DP-opt-out","Our Attack"], "range": ["M-2,0H2M-0.375,0A0.375,0.375 0 1,0 0.375,0A0.375,0.375 0 1,0 -0.375,0Z", "M-2,0H2M-0.34,-0.34H0.34V0.34H-0.34Z", "M-2,0H2M0,-0.45L0.42,0L0,0.45L-0.42,0Z"]}}
    }}
  ]
 }
},
{
 "data": {"name": "acc"},
 "transform": [{"filter": "datum.d == 'CIFAR-10 (ResNet)'"}],
 "facet": {
  "row": {"field": "d", "type": "nominal", "title": null, "header": {"labelExpr": "split(datum.value, ' ')", "labelAngle": -90, "labelFontSize": 12.2, "labelPadding": 0, "labelLineHeight": 14}},
  "column": {"field": "f", "type": "nominal", "sort": ["No Defense","Deepsight","Krum","Flame","MESAS","FreqFed","FLShield"], "title": null, "header": {"labels": false}}
 },
 "spacing": {"column": 10, "row": 0},
 "spec": {
  "width": 148, "height": 80,
  "encoding": {
   "x": {"field": "e", "type": "quantitative", "scale": {"domain": [0, 79], "nice": false}, "axis": {"labels": false, "title": null, "values": [0,20,40,60]}},
   "y": {"field": "a", "type": "quantitative", "scale": {"domain": [0, 105], "nice": false}, "axis": {"values": [0,50,100], "title": null}},
   "color": {"field": "m", "type": "nominal", "title": null, "scale": {"domain": ["DP-opt-in","DP-opt-out","Our Attack"], "range": ["#1f77b4","#d62728","#2ca02c"]}}
  },
  "layer": [
   {"mark": {"type": "line", "strokeWidth": 1.3, "interpolate": "monotone", "clip": true}},
   {"transform": [{"filter": "datum.e <= 70"}],
    "mark": {"type": "point", "filled": true, "opacity": 1, "size": 207, "strokeWidth": 0, "clip": true},
    "encoding": {
     "stroke": {"field": "m", "type": "nominal", "title": null, "scale": {"domain": ["DP-opt-in","DP-opt-out","Our Attack"], "range": ["#1f77b4","#d62728","#2ca02c"]}},
     "shape": {"field": "m", "type": "nominal", "title": null, "scale": {"domain": ["DP-opt-in","DP-opt-out","Our Attack"], "range": ["M-2,0H2M-0.375,0A0.375,0.375 0 1,0 0.375,0A0.375,0.375 0 1,0 -0.375,0Z", "M-2,0H2M-0.34,-0.34H0.34V0.34H-0.34Z", "M-2,0H2M0,-0.45L0.42,0L0,0.45L-0.42,0Z"]}}
    }}
  ]
 }
},
{
 "data": {"name": "acc"},
 "transform": [{"filter": "datum.d == 'CIFAR-100 (ViT)'"}],
 "facet": {
  "row": {"field": "d", "type": "nominal", "title": null, "header": {"labelExpr": "split(datum.value, ' ')", "labelAngle": -90, "labelFontSize": 12.2, "labelPadding": 0, "labelLineHeight": 14}},
  "column": {"field": "f", "type": "nominal", "sort": ["No Defense","Deepsight","Krum","Flame","MESAS","FreqFed","FLShield"], "title": null, "header": {"labels": false}}
 },
 "spacing": {"column": 10, "row": 0},
 "spec": {
  "width": 148, "height": 80,
  "encoding": {
   "x": {"field": "e", "type": "quantitative", "scale": {"domain": [0, 79], "nice": false}, "axis": {"labels": false, "title": null, "values": [0,20,40,60]}},
   "y": {"field": "a", "type": "quantitative", "scale": {"domain": [0, 105], "nice": false}, "axis": {"values": [0,50,100], "title": null}},
   "color": {"field": "m", "type": "nominal", "title": null, "scale": {"domain": ["DP-opt-in","DP-opt-out","Our Attack"], "range": ["#1f77b4","#d62728","#2ca02c"]}}
  },
  "layer": [
   {"mark": {"type": "line", "strokeWidth": 1.3, "interpolate": "monotone", "clip": true}},
   {"transform": [{"filter": "datum.e <= 70"}],
    "mark": {"type": "point", "filled": true, "opacity": 1, "size": 207, "strokeWidth": 0, "clip": true},
    "encoding": {
     "stroke": {"field": "m", "type": "nominal", "title": null, "scale": {"domain": ["DP-opt-in","DP-opt-out","Our Attack"], "range": ["#1f77b4","#d62728","#2ca02c"]}},
     "shape": {"field": "m", "type": "nominal", "title": null, "scale": {"domain": ["DP-opt-in","DP-opt-out","Our Attack"], "range": ["M-2,0H2M-0.375,0A0.375,0.375 0 1,0 0.375,0A0.375,0.375 0 1,0 -0.375,0Z", "M-2,0H2M-0.34,-0.34H0.34V0.34H-0.34Z", "M-2,0H2M0,-0.45L0.42,0L0,0.45L-0.42,0Z"]}}
    }}
  ]
 }
},
{
 "data": {"name": "acc"},
 "transform": [{"filter": "datum.d == 'Sentiment-140 (MLP)'"}],
 "facet": {
  "row": {"field": "d", "type": "nominal", "title": null, "header": {"labelExpr": "split(datum.value, ' ')", "labelAngle": -90, "labelFontSize": 12.2, "labelPadding": 0, "labelLineHeight": 14}},
  "column": {"field": "f", "type": "nominal", "sort": ["No Defense","Deepsight","Krum","Flame","MESAS","FreqFed","FLShield"], "title": null, "header": {"labels": false}}
 },
 "spacing": {"column": 10, "row": 0},
 "spec": {
  "width": 148, "height": 80,
  "encoding": {
   "x": {"field": "e", "type": "quantitative", "scale": {"domain": [0, 79], "nice": false}, "axis": {"values": [0,20,40,60], "title": "Epoch", "titleFontSize": 14.7, "titlePadding": 2}},
   "y": {"field": "a", "type": "quantitative", "scale": {"domain": [0, 105], "nice": false}, "axis": {"values": [0,50,100], "title": null}},
   "color": {"field": "m", "type": "nominal", "title": null, "scale": {"domain": ["DP-opt-in","DP-opt-out","Our Attack"], "range": ["#1f77b4","#d62728","#2ca02c"]}}
  },
  "layer": [
   {"mark": {"type": "line", "strokeWidth": 1.3, "interpolate": "monotone", "clip": true}},
   {"transform": [{"filter": "datum.e <= 70"}],
    "mark": {"type": "point", "filled": true, "opacity": 1, "size": 207, "strokeWidth": 0, "clip": true},
    "encoding": {
     "stroke": {"field": "m", "type": "nominal", "title": null, "scale": {"domain": ["DP-opt-in","DP-opt-out","Our Attack"], "range": ["#1f77b4","#d62728","#2ca02c"]}},
     "shape": {"field": "m", "type": "nominal", "title": null, "scale": {"domain": ["DP-opt-in","DP-opt-out","Our Attack"], "range": ["M-2,0H2M-0.375,0A0.375,0.375 0 1,0 0.375,0A0.375,0.375 0 1,0 -0.375,0Z", "M-2,0H2M-0.34,-0.34H0.34V0.34H-0.34Z", "M-2,0H2M0,-0.45L0.42,0L0,0.45L-0.42,0Z"]}}
    }}
  ]
 }
}
]
}
